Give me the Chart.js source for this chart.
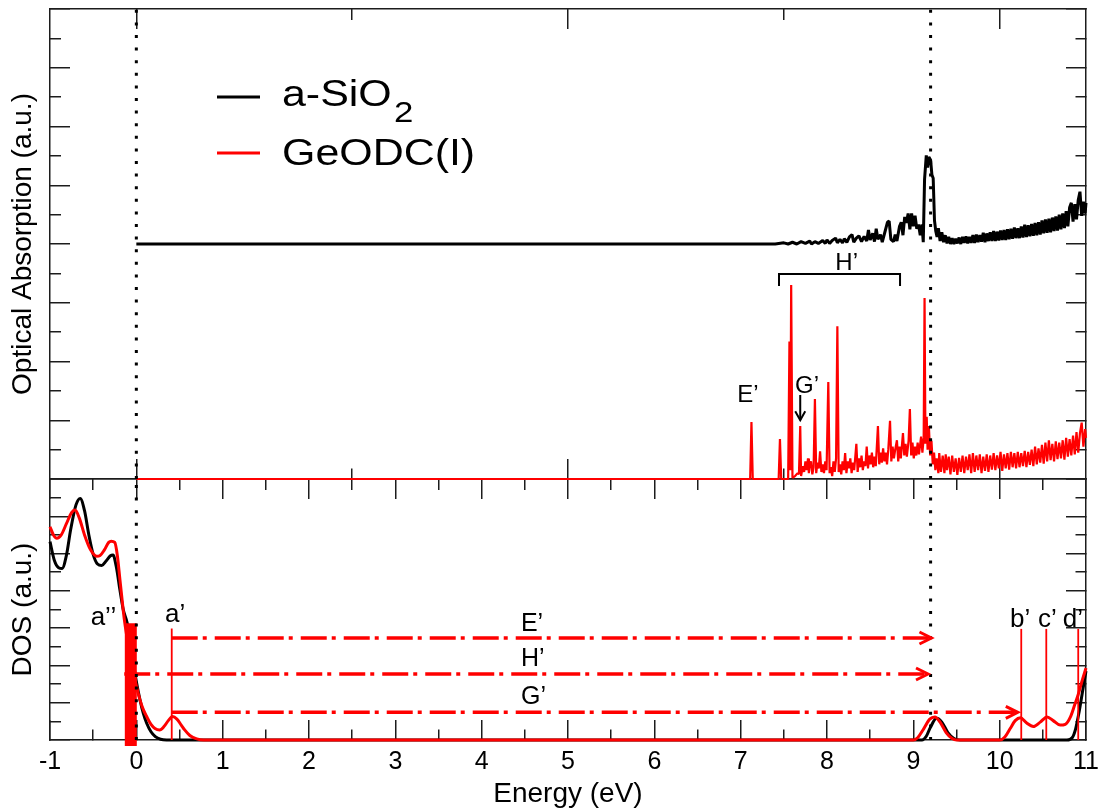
<!DOCTYPE html>
<html><head><meta charset="utf-8">
<script src="https://cdn.jsdelivr.net/npm/chart.js"></script>
<style>
html,body{margin:0;padding:0;background:#fff;width:1106px;height:812px;overflow:hidden}
#c1{position:absolute;left:0;top:0}
#c2{position:absolute;left:0;top:470px}
</style></head><body>
<canvas id="c2" width="1106" height="342"></canvas>
<canvas id="c1" width="1106" height="490"></canvas>
<script>
// ---------------- data ----------------
const absXTicks = [0, 2.5, 5, 7.5, 10];
const absYTicks = [0,0.5,1,1.5,2,2.5,3,3.5,4,4.5,5,5.5,6,6.5,7,7.5,8];
const dosXTicks = [-1,-0.5,0,0.5,1,1.5,2,2.5,3,3.5,4,4.5,5,5.5,6,6.5,7,7.5,8,8.5,9,9.5,10,10.5,11];
const dosYTicks = [0,0.5,1,1.5,2,2.5,3,3.5,4,4.5,5,5.5,6,6.5,7];

const seriesNames = ['a-SiO₂', 'GeODC(I)'];
const legendMain = ['a-SiO', 'GeODC(I)'];
const legendSub = ['2', ''];
const edgeLines = [0, 9.2];

// optical absorption, a-SiO2 (offset by 4)
const absBlack = [[0,4],[7.40,4],[7.50,4.02],[7.55,4.0],[7.60,4.03],[7.65,4.0],[7.70,4.04],[7.75,4.01],[7.80,4.05],[7.82,4.0],[7.86,4.04],[7.90,4.01],[7.95,4.06],[7.98,4.01],[8.00,4.07],[8.03,4.01],[8.06,4.06],[8.10,4.10],[8.12,4.02],[8.15,4.08],[8.18,4.02],[8.20,4.09],[8.23,4.03],[8.26,4.12],[8.29,4.16],[8.31,4.03],[8.34,4.10],[8.37,4.14],[8.40,4.04],[8.43,4.13],[8.46,4.05],[8.48,4.24],[8.50,4.07],[8.53,4.18],[8.55,4.04],[8.57,4.26],[8.59,4.08],[8.62,4.16],[8.64,4.03],[8.67,4.20],[8.70,4.37],[8.72,4.39],[8.74,4.08],[8.77,4.04],[8.79,4.16],[8.81,4.05],[8.84,4.30],[8.86,4.37],[8.88,4.15],[8.90,4.46],[8.92,4.36],[8.94,4.52],[8.96,4.25],[8.98,4.52],[9.00,4.30],[9.02,4.48],[9.04,4.26],[9.06,4.33],[9.08,4.15],[9.10,4.33],[9.115,4.03],[9.13,5.10],[9.15,5.51],[9.165,5.30],[9.18,5.48],[9.20,5.43],[9.215,5.18],[9.23,5.12],[9.245,4.40],[9.26,4.22],[9.275,4.12],[9.29,4.27],[9.31,4.05],[9.33,4.20],[9.35,4.03],[9.37,4.15],[9.39,4.01],[9.41,4.12],[9.43,4.00],[9.45,4.10],[9.47,4.00],[9.49,4.09],[9.51,4.01],[9.53,4.11],[9.55,4.00],[9.57,4.12],[9.59,4.02],[9.61,4.13],[9.63,4.01],[9.65,4.12],[9.67,4.02],[9.69,4.15],[9.71,4.02],[9.73,4.16],[9.75,4.03],[9.77,4.15],[9.79,4.04],[9.81,4.19],[9.83,4.03],[9.85,4.18],[9.87,4.05],[9.89,4.20],[9.91,4.05],[9.93,4.22],[9.95,4.05],[9.97,4.21],[9.99,4.06],[10.01,4.23],[10.03,4.07],[10.05,4.24],[10.07,4.07],[10.09,4.25],[10.11,4.08],[10.13,4.26],[10.15,4.09],[10.17,4.28],[10.19,4.10],[10.21,4.27],[10.23,4.10],[10.25,4.30],[10.27,4.11],[10.29,4.33],[10.31,4.12],[10.33,4.32],[10.35,4.13],[10.37,4.34],[10.39,4.14],[10.41,4.36],[10.43,4.15],[10.45,4.37],[10.47,4.16],[10.49,4.40],[10.51,4.18],[10.53,4.42],[10.55,4.19],[10.57,4.43],[10.59,4.20],[10.61,4.45],[10.63,4.22],[10.65,4.47],[10.67,4.23],[10.69,4.50],[10.71,4.25],[10.73,4.52],[10.75,4.27],[10.77,4.56],[10.79,4.30],[10.81,4.62],[10.83,4.70],[10.85,4.38],[10.87,4.68],[10.89,4.42],[10.91,4.75],[10.93,4.89],[10.95,4.48],[10.97,4.72],[10.99,4.52],[11.00,4.70]];

// optical absorption, GeODC(I)
const absRed = [[0,0],[7.11,0],[7.125,0.97],[7.14,0],[7.44,0],[7.455,0.68],[7.47,0],[7.55,0],[7.565,2.34],[7.575,0.15],[7.585,3.30],[7.60,0.02],[7.63,0.05],[7.66,0.10],[7.675,0.08],[7.69,0.90],[7.70,0.05],[7.72,0.22],[7.735,0.12],[7.75,0.30],[7.765,0.15],[7.78,0.35],[7.79,0.10],[7.80,0.25],[7.815,0.30],[7.83,0.08],[7.845,0.20],[7.86,1.36],[7.875,0.10],[7.89,0.28],[7.905,0.18],[7.92,0.47],[7.935,0.12],[7.95,0.25],[7.965,0.10],[7.98,0.30],[7.995,0.15],[8.015,1.65],[8.03,0.10],[8.045,0.20],[8.06,0.05],[8.075,0.30],[8.09,0.12],[8.105,0.35],[8.12,2.60],[8.135,0.12],[8.15,0.25],[8.165,0.08],[8.18,0.30],[8.195,0.15],[8.21,0.44],[8.225,0.10],[8.24,0.30],[8.255,0.18],[8.27,0.35],[8.285,0.10],[8.30,0.28],[8.315,0.15],[8.34,0.60],[8.355,0.12],[8.37,0.35],[8.385,0.20],[8.40,0.40],[8.415,0.15],[8.43,0.30],[8.445,0.22],[8.46,0.55],[8.475,0.18],[8.49,0.40],[8.505,0.25],[8.52,0.45],[8.535,0.20],[8.55,0.38],[8.565,0.22],[8.59,0.90],[8.605,0.25],[8.62,0.45],[8.635,0.28],[8.65,0.52],[8.665,0.30],[8.68,0.45],[8.695,0.25],[8.71,0.50],[8.73,0.99],[8.745,0.30],[8.76,0.55],[8.775,0.35],[8.79,0.50],[8.81,0.66],[8.825,0.30],[8.84,0.55],[8.855,0.35],[8.88,0.78],[8.895,0.40],[8.91,0.60],[8.925,0.38],[8.945,0.65],[8.96,1.19],[8.975,0.40],[8.99,0.62],[9.005,0.35],[9.02,0.55],[9.035,0.40],[9.05,0.62],[9.065,0.42],[9.09,0.72],[9.105,0.45],[9.12,0.70],[9.13,3.08],[9.14,0.60],[9.155,1.06],[9.165,0.50],[9.18,0.90],[9.195,0.40],[9.21,0.65],[9.225,0.25],[9.24,0.45],[9.255,0.15],[9.27,0.35],[9.29,0.10],[9.30,0.44],[9.32,0.12],[9.34,0.40],[9.36,0.10],[9.375,0.42],[9.39,0.15],[9.41,0.38],[9.43,0.08],[9.45,0.40],[9.47,0.12],[9.49,0.35],[9.51,0.07],[9.53,0.36],[9.55,0.12],[9.57,0.40],[9.59,0.10],[9.61,0.38],[9.63,0.15],[9.65,0.42],[9.67,0.10],[9.69,0.44],[9.71,0.12],[9.73,0.40],[9.75,0.15],[9.77,0.42],[9.79,0.10],[9.81,0.38],[9.83,0.14],[9.85,0.42],[9.87,0.12],[9.89,0.40],[9.91,0.16],[9.93,0.44],[9.95,0.15],[9.97,0.40],[9.99,0.18],[10.01,0.46],[10.03,0.14],[10.05,0.42],[10.07,0.18],[10.09,0.44],[10.11,0.16],[10.13,0.46],[10.15,0.20],[10.17,0.44],[10.19,0.18],[10.21,0.46],[10.23,0.20],[10.25,0.44],[10.27,0.22],[10.29,0.48],[10.31,0.20],[10.33,0.46],[10.35,0.24],[10.37,0.50],[10.39,0.22],[10.41,0.55],[10.43,0.25],[10.45,0.52],[10.47,0.28],[10.49,0.58],[10.51,0.26],[10.53,0.62],[10.55,0.30],[10.57,0.66],[10.59,0.32],[10.61,0.60],[10.63,0.30],[10.65,0.64],[10.67,0.34],[10.69,0.62],[10.71,0.35],[10.73,0.66],[10.75,0.33],[10.77,0.70],[10.79,0.38],[10.81,0.68],[10.83,0.40],[10.85,0.74],[10.87,0.42],[10.89,0.80],[10.91,0.45],[10.93,0.78],[10.95,0.96],[10.97,0.55],[10.99,0.85],[11.00,0.70]];

// density of states
const dosBlack = [[-1.00,5.32],[-0.95,4.82],[-0.90,4.62],[-0.86,4.60],[-0.81,4.95],[-0.76,5.65],[-0.70,6.30],[-0.65,6.48],[-0.60,6.15],[-0.55,5.50],[-0.50,4.98],[-0.45,4.72],[-0.40,4.68],[-0.35,4.80],[-0.30,4.94],[-0.27,4.96],[-0.23,4.62],[-0.19,4.02],[-0.151,3.49],[-0.105,3.13],[-0.05,2.30],[0.004,1.52],[0.043,1.07],[0.08,0.72],[0.12,0.45],[0.17,0.22],[0.22,0.09],[0.28,0.02],[0.35,0],[9.10,0],[9.15,0.10],[9.20,0.35],[9.27,0.58],[9.33,0.48],[9.40,0.20],[9.47,0.04],[9.54,0],[10.78,0],[10.84,0.06],[10.88,0.30],[10.92,0.75],[10.96,1.30],[11.00,1.85]];
const dosRed = [[-1.00,5.72],[-0.96,5.50],[-0.92,5.41],[-0.87,5.50],[-0.81,5.80],[-0.75,6.10],[-0.71,6.17],[-0.66,5.95],[-0.60,5.50],[-0.53,5.10],[-0.46,4.93],[-0.42,4.95],[-0.37,5.10],[-0.32,5.30],[-0.29,5.33],[-0.25,5.30],[-0.22,4.95],[-0.19,4.30],[-0.14,3.25],[-0.09,2.50],[-0.04,1.90],[0.00,1.45],[0.043,1.07],[0.08,0.82],[0.12,0.63],[0.17,0.42],[0.216,0.31],[0.27,0.27],[0.32,0.36],[0.37,0.52],[0.42,0.63],[0.47,0.56],[0.52,0.40],[0.56,0.27],[0.62,0.12],[0.70,0.03],[0.78,0],[9.00,0],[9.05,0.06],[9.12,0.30],[9.19,0.56],[9.25,0.62],[9.31,0.48],[9.38,0.20],[9.45,0.04],[9.50,0],[10.00,0],[10.06,0.08],[10.12,0.30],[10.18,0.52],[10.24,0.60],[10.31,0.46],[10.39,0.36],[10.47,0.48],[10.55,0.62],[10.62,0.52],[10.70,0.40],[10.76,0.42],[10.82,0.62],[10.87,0.95],[10.91,1.22],[10.95,1.55],[11.00,1.93]];

// defect levels
const aBarE = -0.064;
const aBarRange = [-0.16, 3.13];
const peakNames = ['a’', 'b’', 'c’', 'd’'];
const peakE = [0.41, 10.25, 10.54, 10.91];
const peakTop = [2.99, 2.98, 2.98, 2.98];

// transitions (dash-dot arrows)
const trNames = ['E’', 'H’', 'G’'];
const trFrom = [0.41, -0.14, 0.41];
const trTo = [9.21, 9.17, 10.21];
const trLevel = [2.735, 1.77, 0.743];

// top panel annotation anchors
const hBracketE = [7.444, 8.846];
const hBracketY = [3.285, 3.49];
const gArrowE = 7.69;
const gArrowY = [1.43, 1.0];

// ---------------- helpers ----------------
const FONT = "'Liberation Sans', Arial, Helvetica, sans-serif";
const RED = '#ff0000', BLACK = '#000000', FRAME = '#1c1c1c';
Chart.defaults.font.family = FONT;
Chart.defaults.color = '#000';

const pts = arr => arr.map(p => ({x: p[0], y: p[1]}));
const vline = (xv, y0, y1) => [{x: xv, y: y0}, {x: xv, y: y1}];
const isInt = v => Math.abs(v - Math.round(v)) < 1e-6;
const isMult5 = v => Math.abs(v / 5 - Math.round(v / 5)) < 1e-6;

function tickAxis(pos, min, max, tickVals, majorFn, size, extra) {
  const innerStart = (pos === 'top' || pos === 'left');
  const horiz = (pos === 'top' || pos === 'bottom');
  return Object.assign({
    type: 'linear', position: pos, min: min, max: max,
    afterBuildTicks: s => { s.ticks = tickVals.map(v => ({value: v})); },
    afterFit: s => {
      if (horiz) s.height = size; else s.width = size;
      s.paddingLeft = 0; s.paddingRight = 0; s.paddingTop = 0; s.paddingBottom = 0;
    },
    ticks: {display: false},
    grid: {
      drawOnChartArea: false, drawTicks: true, tickLength: -20, lineWidth: 1.5,
      color: FRAME, tickColor: FRAME, tickWidth: 1.5,
      tickBorderDash: c => (c.tick && !majorFn(c.tick.value)) ? [11, 100] : [],
      tickBorderDashOffset: c => (innerStart && c.tick && !majorFn(c.tick.value)) ? 102 : 0
    },
    border: {display: true, color: FRAME, width: 1.5}
  }, extra || {});
}

const lineDs = (data, color, width, extra) => Object.assign({
  data: data, borderColor: color, backgroundColor: color, borderWidth: width,
  pointRadius: 0, fill: false, tension: 0, clip: false,
  borderJoinStyle: 'bevel', borderCapStyle: 'butt'
}, extra || {});

function chevron(ctx, px, py, dir, len, half, color, w) {
  ctx.save();
  ctx.strokeStyle = color; ctx.lineWidth = w; ctx.lineJoin = 'miter';
  ctx.beginPath();
  if (dir === 'right') { ctx.moveTo(px - len, py - half); ctx.lineTo(px, py); ctx.lineTo(px - len, py + half); }
  else { ctx.moveTo(px - half, py - len); ctx.lineTo(px, py); ctx.lineTo(px + half, py - len); }
  ctx.stroke();
  ctx.restore();
}

// ---------------- top panel ----------------
const topPlugin = {
  id: 'topAnnot',
  afterDatasetsDraw(chart) {
    const {ctx, scales: {x, y}} = chart;
    ctx.save();
    // legend
    const colors = [BLACK, RED];
    const rowY = [97, 153], baseY = [105.5, 165];
    legendMain.forEach((t, i) => {
      ctx.strokeStyle = colors[i]; ctx.lineWidth = 3;
      ctx.beginPath(); ctx.moveTo(217, rowY[i]); ctx.lineTo(260, rowY[i]); ctx.stroke();
      ctx.save();
      ctx.translate(282, baseY[i]); ctx.scale(1.16, 1);
      ctx.fillStyle = '#000'; ctx.textBaseline = 'alphabetic'; ctx.textAlign = 'left';
      ctx.font = '37px ' + FONT;
      ctx.fillText(t, 0, 0);
      const w = ctx.measureText(t).width;
      if (legendSub[i]) { ctx.font = '30px ' + FONT; ctx.fillText(legendSub[i], w + 2, 16); }
      ctx.restore();
    });
    // labels
    ctx.fillStyle = '#000'; ctx.font = '24px ' + FONT; ctx.textBaseline = 'alphabetic';
    ctx.textAlign = 'center';
    ctx.fillText('H’', x.getPixelForValue(8.228), y.getPixelForValue(3.56));
    ctx.fillText('E’', x.getPixelForValue(7.085), y.getPixelForValue(1.31));
    ctx.textAlign = 'left';
    ctx.fillText('G’', x.getPixelForValue(7.63), y.getPixelForValue(1.46));
    chevron(ctx, x.getPixelForValue(gArrowE), y.getPixelForValue(gArrowY[1]), 'down', 9, 5, BLACK, 2);
    ctx.restore();
  }
};

new Chart(document.getElementById('c1'), {
  type: 'line',
  data: {datasets: [
    lineDs(vline(edgeLines[0], 0, 8), BLACK, 3, {borderDash: [3, 9.6], order: 0}),
    lineDs(vline(edgeLines[1], 0, 8), BLACK, 3, {borderDash: [3, 9.6], order: 0}),
    lineDs([{x: hBracketE[0], y: hBracketY[0]}, {x: hBracketE[0], y: hBracketY[1]}, {x: hBracketE[1], y: hBracketY[1]}, {x: hBracketE[1], y: hBracketY[0]}], BLACK, 2, {order: 0, borderJoinStyle: 'miter'}),
    lineDs(vline(gArrowE, gArrowY[0], gArrowY[1]), BLACK, 2, {order: 0}),
    lineDs(pts(absRed), RED, 2.2, {label: seriesNames[1], order: 1}),
    lineDs(pts(absBlack), BLACK, 3, {label: seriesNames[0], order: 2})
  ]},
  options: {
    responsive: false, animation: false, events: [],
    layout: {padding: 0},
    plugins: {legend: {display: false}, tooltip: {enabled: false}},
    scales: {
      x: tickAxis('bottom', -1, 11, absXTicks, isMult5, 11),
      xTop: tickAxis('top', -1, 11, absXTicks, isMult5, 9),
      y: tickAxis('left', 0, 8, absYTicks, isInt, 50, {title: {display: true, text: 'Optical Absorption (a.u.)', font: {size: 28}, color: '#000', padding: {top: 6.5, bottom: 0}}}),
      yR: tickAxis('right', 0, 8, absYTicks, isInt, 20)
    }
  },
  plugins: [topPlugin]
});

// ---------------- bottom panel ----------------
const dosPlugin = {
  id: 'dosAnnot',
  afterDatasetsDraw(chart) {
    const {ctx, scales: {x, y}} = chart;
    ctx.save();
    trNames.forEach((n, i) => {
      chevron(ctx, x.getPixelForValue(trTo[i]), y.getPixelForValue(trLevel[i]), 'right', 12, 6, RED, 3);
    });
    ctx.fillStyle = '#000'; ctx.font = '25px ' + FONT; ctx.textAlign = 'left'; ctx.textBaseline = 'middle';
    const trLabY = [3.11, 2.17, 1.15];
    trNames.forEach((n, i) => ctx.fillText(n, x.getPixelForValue(4.455), y.getPixelForValue(trLabY[i])));
    ctx.font = '26px ' + FONT; ctx.textBaseline = 'alphabetic';
    ctx.fillText('a’’', x.getPixelForValue(-0.529), y.getPixelForValue(3.08));
    const pkLabX = [0.332, 10.12, 10.445, 10.73];
    const pkLabY = [3.17, 3.04, 3.04, 3.04];
    peakNames.forEach((n, i) => ctx.fillText(n, x.getPixelForValue(pkLabX[i]), y.getPixelForValue(pkLabY[i])));
    ctx.restore();
  }
};

const dosDatasets = [
  lineDs(vline(edgeLines[0], 0, 7), BLACK, 3, {borderDash: [3, 9.6], order: 0}),
  lineDs(vline(edgeLines[1], 0, 7), BLACK, 3, {borderDash: [3, 9.6], order: 0}),
  lineDs(vline(aBarE, aBarRange[0], aBarRange[1]), RED, 12, {order: 1})
];
peakE.forEach((e, i) => dosDatasets.push(lineDs(vline(e, 0, peakTop[i]), RED, 1.8, {order: 2})));
trNames.forEach((n, i) => dosDatasets.push(lineDs([{x: trFrom[i], y: trLevel[i]}, {x: trTo[i] - 0.02, y: trLevel[i]}], RED, 3.5, {borderDash: [26, 5, 4, 8], order: 3})));
dosDatasets.push(lineDs(pts(dosRed), RED, 3, {label: seriesNames[1], cubicInterpolationMode: 'monotone', order: 4, borderJoinStyle: 'round'}));
dosDatasets.push(lineDs(pts(dosBlack), BLACK, 3, {label: seriesNames[0], cubicInterpolationMode: 'monotone', order: 5, borderJoinStyle: 'round'}));

new Chart(document.getElementById('c2'), {
  type: 'line',
  data: {datasets: dosDatasets},
  options: {
    responsive: false, animation: false, events: [],
    layout: {padding: 0},
    plugins: {legend: {display: false}, tooltip: {enabled: false}},
    scales: {
      x: tickAxis('bottom', -1, 11, dosXTicks, isInt, 72, {
        ticks: {display: true, autoSkip: false, maxRotation: 0, minRotation: 0, padding: 27.5, font: {size: 25}, color: '#000',
          callback: v => isInt(v) ? String(Math.round(v)) : ''},
        title: {display: true, text: 'Energy (eV)', font: {size: 28}, color: '#000', padding: {top: 0, bottom: 1}}
      }),
      xTop: tickAxis('top', -1, 11, dosXTicks, isInt, 9),
      y: tickAxis('left', 0, 7, dosYTicks, isInt, 50, {title: {display: true, text: 'DOS (a.u.)', font: {size: 28}, color: '#000', padding: {top: 6.5, bottom: 0}}}),
      yR: tickAxis('right', 0, 7, dosYTicks, isInt, 20)
    }
  },
  plugins: [dosPlugin]
});
</script>
</body></html>
